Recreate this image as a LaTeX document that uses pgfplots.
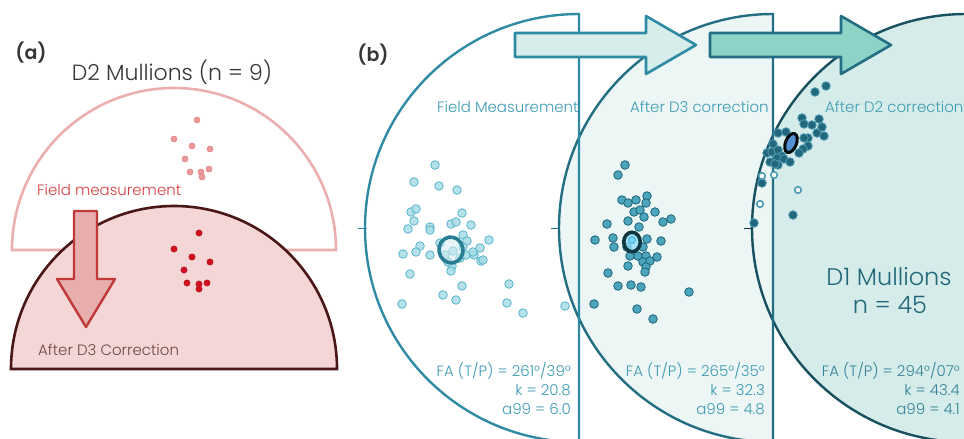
\documentclass[border=0pt]{standalone}
\usepackage{pgfplots}
\pgfplotsset{compat=1.18}
\usepackage{fontspec}
\setmainfont{Poppins}[UprightFont={* Light}, BoldFont={* SemiBold}]
\usetikzlibrary{shapes.geometric}
\definecolor{pinkline}{HTML}{EBAFAF}
\definecolor{maroon}{HTML}{4A1616}
\definecolor{pinkfill}{HTML}{F5D6D6}
\definecolor{redtxt}{HTML}{D43F3F}
\definecolor{reddot}{HTML}{D0101E}
\definecolor{lightred}{HTML}{E8999B}
\definecolor{arrowred}{HTML}{E8AEAE}
\definecolor{tealA}{HTML}{2E8BA3}
\definecolor{tealB}{HTML}{236E82}
\definecolor{tealC}{HTML}{17505F}
\definecolor{fillB}{HTML}{EBF6F5}
\definecolor{fillC}{HTML}{D6ECEA}
\definecolor{arrowA}{HTML}{D6EDEB}
\definecolor{arrowB}{HTML}{8DD3C7}
\definecolor{txtA}{HTML}{3E9BB3}
\definecolor{txtD}{HTML}{22687A}
\definecolor{dotA}{HTML}{A8DCE6}
\definecolor{dotAline}{HTML}{5AB5CA}
\definecolor{dotB}{HTML}{4AA5BD}
\definecolor{dotBline}{HTML}{1F6478}
\definecolor{dotC}{HTML}{23677D}
\definecolor{dotCline}{HTML}{4C9DB2}
\definecolor{darkgray}{HTML}{363636}
\begin{document}
\begin{tikzpicture}
\begin{axis}[width=964pt, height=439pt, scale only axis, hide axis,
  xmin=0, xmax=964, ymin=0, ymax=439, y dir=reverse, clip=true]
% ---------- panel (a) ----------
\draw[pinkline, line width=2.6pt, fill=white] (axis cs:12,250) arc[start angle=180, end angle=0, radius=162pt] -- cycle;
\addplot[only marks, mark=*, mark size=3pt, mark options={fill=lightred, draw=lightred!80!red, line width=0.5pt}] coordinates {
(197,120) (174,139) (192,146) (210,149) (185,159) (190,172) (201,172) (209,169) (202,177)};
\draw[maroon, line width=2.6pt, fill=pinkfill] (axis cs:11,369) arc[start angle=180, end angle=0, radius=163pt] -- cycle;
\addplot[only marks, mark=*, mark size=3.2pt, mark options={fill=reddot, draw=reddot!85!black, line width=0.4pt}] coordinates {
(199,233) (174,249) (192,257) (210,262) (184,270) (187,283) (199,284) (207,283) (199,289)};
\draw[redtxt!90!black, line width=2.4pt, fill=arrowred, line join=round]
 (axis cs:74,211) -- (axis cs:97,211) -- (axis cs:97,279) -- (axis cs:115,279) -- (axis cs:86,327) -- (axis cs:57,279) -- (axis cs:74,279) -- cycle;
\node[anchor=center, inner sep=0, font=\fontsize{19}{22}\selectfont\bfseries, text=darkgray] at (axis cs:31,53) {(a)};
\node[anchor=base, inner sep=0, font=\fontsize{22}{26}\selectfont, text=darkgray] at (axis cs:172,80) {D2 Mullions (n = 9)};
\node[anchor=base west, inner sep=0, font=\fontsize{15}{18}\selectfont, text=redtxt] at (axis cs:37,195) {Field measurement};
\node[anchor=base west, inner sep=0, font=\fontsize{15}{18}\selectfont, text=maroon!80] at (axis cs:38,355) {After D3 Correction};
% ---------- panel (b) ----------
\node[anchor=center, inner sep=0, font=\fontsize{19}{22}\selectfont\bfseries, text=darkgray] at (axis cs:373,55) {(b)};
\fill[fillC] (axis cs:966,228) circle[radius=214pt];
\fill[fillB] (axis cs:773,14) arc[start angle=90, end angle=270, radius=214pt] -- cycle;
\draw[tealC, line width=2.4pt] (axis cs:966,228) circle[radius=214pt];
\draw[tealB, line width=2.4pt] (axis cs:773,14) arc[start angle=90, end angle=270, radius=214pt] -- cycle;
\draw[tealA, line width=2.4pt] (axis cs:579,14) arc[start angle=90, end angle=270, radius=214pt] -- cycle;
\draw[tealA, line width=1pt] (axis cs:358,228) -- (axis cs:367,228);
\draw[tealB, line width=1pt] (axis cs:551,228) -- (axis cs:560,228);
\draw[tealC!70!black, line width=1pt] (axis cs:744,228) -- (axis cs:753,228);
\begin{scope}
\clip (axis cs:0,0) rectangle (axis cs:578,439);
\node[anchor=base west, inner sep=0, font=\fontsize{15}{18}\selectfont, text=txtA] at (axis cs:437,112) {Field Measurement};
\end{scope}
\begin{scope}
\clip (axis cs:580,0) rectangle (axis cs:772,439);
\node[anchor=base west, inner sep=0, font=\fontsize{15}{18}\selectfont, text=txtA] at (axis cs:630,112) {After D3 correction};
\end{scope}
\node[anchor=base west, inner sep=0, font=\fontsize{15}{18}\selectfont, text=txtA] at (axis cs:825,112) {After D2 correction};
\node[anchor=base east, inner sep=0, font=\fontsize{15}{18}\selectfont, text=txtA] at (axis cs:571,376) {FA (T/P) = 261°/39°};
\node[anchor=base east, inner sep=0, font=\fontsize{15}{18}\selectfont, text=txtA] at (axis cs:571,395) {k = 20.8};
\node[anchor=base east, inner sep=0, font=\fontsize{15}{18}\selectfont, text=txtA] at (axis cs:571,414) {a99 = 6.0};
\node[anchor=base east, inner sep=0, font=\fontsize{15}{18}\selectfont, text=txtA] at (axis cs:765,376) {FA (T/P) = 265°/35°};
\node[anchor=base east, inner sep=0, font=\fontsize{15}{18}\selectfont, text=txtA] at (axis cs:765,395) {k = 32.3};
\node[anchor=base east, inner sep=0, font=\fontsize{15}{18}\selectfont, text=txtA] at (axis cs:765,414) {a99 = 4.8};
\node[anchor=base east, inner sep=0, font=\fontsize{15}{18}\selectfont, text=txtA!85!black] at (axis cs:960,376) {FA (T/P) = 294°/07°};
\node[anchor=base east, inner sep=0, font=\fontsize{15}{18}\selectfont, text=txtA!85!black] at (axis cs:960,395) {k = 43.4};
\node[anchor=base east, inner sep=0, font=\fontsize{15}{18}\selectfont, text=txtA!85!black] at (axis cs:960,414) {a99 = 4.1};
\node[anchor=base, inner sep=0, font=\fontsize{24}{28}\selectfont, text=txtD] at (axis cs:889,285) {D1 Mullions};
\node[anchor=base, inner sep=0, font=\fontsize{24}{28}\selectfont, text=txtD] at (axis cs:890,313) {n = 45};
% dots circle 1
\addplot[only marks, mark=*, mark size=4.3pt, mark options={fill=dotA, draw=dotAline, line width=0.8pt, fill opacity=0.85}] coordinates {
(435,165) (414,182) (439,186) (457,190) (411,212) (416,209) (462,213) (414,221) (408,229) (430,227) (430,230) (451,224) (456,222) (471,225) (463,235) (467,241) (489,240) (420,246) (416,252) (403,254) (430,255) (440,243) (445,255) (453,251) (460,258) (466,255) (474,255) (473,252) (480,248) (481,261) (483,260) (452,266) (451,271) (410,274) (462,286) (443,295) (456,300) (402,304) (509,284) (507,303) (523,313) (565,306) (448,262) (463,247)};
% dots circle 2
\addplot[only marks, mark=*, mark size=4.3pt, mark options={fill=dotB, draw=dotBline, line width=0.8pt}] coordinates {
(625,165) (618,175) (622,200) (628,203) (636,200) (647,196) (646,203) (634,212) (640,210) (644,217) (655,212) (663,222) (671,219) (607,224) (628,221) (639,227) (595,240) (613,238) (614,247) (647,239) (661,241) (643,247) (627,247) (630,256) (638,256) (646,256) (657,257) (643,262) (650,261) (646,267) (628,266) (645,272) (608,273) (618,286) (631,285) (641,287) (689,292) (594,304) (637,309) (653,319)};
% dots circle 3
\addplot[only marks, mark=*, mark size=4.3pt, mark options={fill=dotC, draw=dotCline, line width=0.8pt}] coordinates {
(826,86) (815,92) (802,118) (804,124) (812,125) (819,119) (822,127) (817,133) (824,136) (808,138) (804,138) (808,146) (803,149) (799,153) (778,133) (786,132) (773,144) (767,153) (772,152) (778,150) (782,156) (777,158) (770,162) (784,159) (790,162) (778,165) (775,164) (762,183) (793,215) (754,223)};
\addplot[only marks, mark=*, mark size=3.3pt, mark options={fill=white, draw=dotCline, line width=1.6pt}] coordinates {
(762,176) (774,175) (798,190) (760,204)};
\coordinate (E1) at (axis cs:451,250);
\coordinate (E2) at (axis cs:632,242);
\coordinate (E3) at (axis cs:791,143);
% arrows
\draw[tealA, line width=2.6pt, fill=arrowA, line join=round]
 (axis cs:515,33) -- (axis cs:646,33) -- (axis cs:646,16) -- (axis cs:696,45) -- (axis cs:646,74) -- (axis cs:646,57) -- (axis cs:515,57) -- cycle;
\draw[tealB, line width=2.6pt, fill=arrowB, line join=round]
 (axis cs:710,33) -- (axis cs:841,33) -- (axis cs:841,16) -- (axis cs:891,45) -- (axis cs:841,74) -- (axis cs:841,57) -- (axis cs:710,57) -- cycle;
\end{axis}
% confidence ellipses (alpha95 cones), drawn on top of the data points
\node[ellipse, draw=tealA!90!black, line width=3.6pt, fill=dotA!50, fill opacity=0.55, draw opacity=1, minimum width=24pt, minimum height=26pt, inner sep=0, rotate=10] at (E1) {};
\node[ellipse, draw=tealC!70!black, line width=3.6pt, fill=cyan!45!white, fill opacity=0.75, draw opacity=1, minimum width=16.5pt, minimum height=19.5pt, inner sep=0] at (E2) {};
\node[circle, fill=cyan!55!white, draw=cyan!60!teal, line width=0.5pt, minimum size=7pt, inner sep=0] at ([yshift=2pt]E2) {};
\node[ellipse, draw=black!85!tealC, line width=3pt, fill=cyan!55!blue!70!white, minimum width=20pt, minimum height=11pt, inner sep=0, rotate=68] at (E3) {};
\pgfresetboundingbox
\path (current axis.south west) rectangle (current axis.north east);
\end{tikzpicture}
\end{document}
